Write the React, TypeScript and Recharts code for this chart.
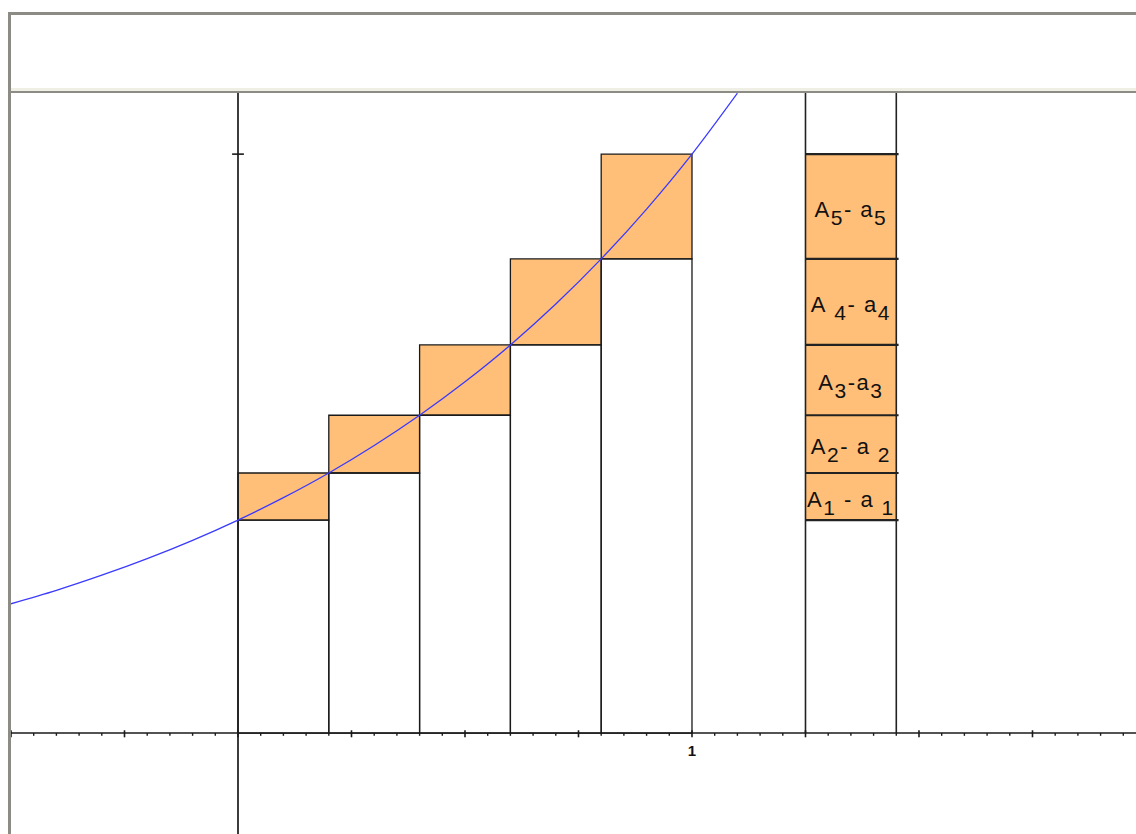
import {
  ComposedChart,
  Line,
  XAxis,
  YAxis,
  ReferenceArea,
  ReferenceLine,
  ReferenceDot,
} from "recharts";

// left edges of the five strips, and the curve heights at each side
const stripLeft = [0, 0.2, 0.4, 0.6, 0.8];
const lowerValues = [1, 1.221, 1.492, 1.822, 2.226];
const upperValues = [1.221, 1.492, 1.822, 2.226, 2.718];
const stripWidth = 0.2;

// the stacked column on the right
const stackLeft = 1.25;
const stackRight = 1.45;
const stackLabels = [
  ["A", "1", " - ", "a", " 1"],
  ["A", "2", "- ", "a", " 2"],
  ["A", "3", "-", "a", "3"],
  ["A", " 4", "- ", "a", "4"],
  ["A", "5", "- ", "a", "5"],
];

// the blue curve
const curveX = [-0.5, -0.4, -0.3, -0.2, -0.1, 0, 0.1, 0.2, 0.3, 0.4, 0.5, 0.6, 0.7, 0.8, 0.9, 1, 1.1];
const curveY = [0.607, 0.67, 0.741, 0.819, 0.905, 1, 1.105, 1.221, 1.35, 1.492, 1.649, 1.822, 2.014, 2.226, 2.46, 2.718, 3.004];
const curveData = curveX.map((x, i) => ({ x, y: curveY[i] }));

// axis ticks
const majorTicks = [-0.5, -0.25, 0, 0.25, 0.5, 0.75, 1, 1.25, 1.5, 1.75];
const minorTicks = [
  -0.45, -0.4, -0.35, -0.3, -0.2, -0.15, -0.1, -0.05, 0.05, 0.1, 0.15, 0.2, 0.3,
  0.35, 0.4, 0.45, 0.55, 0.6, 0.65, 0.7, 0.8, 0.85, 0.9, 0.95, 1.05, 1.1, 1.15,
  1.2, 1.3, 1.35, 1.4, 1.45, 1.55, 1.6, 1.65, 1.7, 1.8, 1.85, 1.9, 1.95,
];
const yTick = 2.718;
const tickLabel = 1;

const ORANGE = "#FFBF78";
const INK = "#1a1a1a";
const BLUE = "#3a3aff";
const FRAME = "#8c8c84";

const nb = (s: string) => s.replace(/ /g, "\u00a0");

const StackLabel = (parts: string[]) => (props: any) => {
  const { x, y, width, height } = props.viewBox;
  const cx = x + width / 2;
  const cy = y + height / 2 + 10;
  return (
    <text
      x={cx}
      y={cy}
      textAnchor="middle"
      fontFamily="'Liberation Sans', Arial, sans-serif"
      fontSize={22}
      letterSpacing={1.5}
      fill="#111"
    >
      <tspan>{parts[0]}</tspan>
      <tspan dy={8} fontSize={21}>{nb(parts[1])}</tspan>
      <tspan dy={-8}>{nb(parts[2])}</tspan>
      <tspan>{parts[3]}</tspan>
      <tspan dy={8} fontSize={21}>{nb(parts[4])}</tspan>
    </text>
  );
};

const TickText = (props: any) => {
  const { x, y, width } = props.viewBox;
  return (
    <text
      x={x + width / 2}
      y={y + 23}
      textAnchor="middle"
      fontFamily="'Liberation Sans', Arial, sans-serif"
      fontWeight="bold"
      fontSize={15}
      fill="#111"
    >
      {tickLabel}
    </text>
  );
};

const App = () => {
  return (
    <div
      style={{
        position: "absolute",
        left: 0,
        top: 0,
        width: 1136,
        height: 834,
        background: "#fff",
        overflow: "hidden",
      }}
    >
      {/* window frame */}
      <div style={{ position: "absolute", left: 8, top: 12, width: 1128, height: 3, background: FRAME }} />
      <div style={{ position: "absolute", left: 8, top: 12, width: 3, height: 822, background: FRAME }} />
      <div style={{ position: "absolute", left: 11, top: 88, width: 1125, height: 3, background: "#efefe6" }} />
      <div style={{ position: "absolute", left: 8, top: 91, width: 1128, height: 2, background: FRAME }} />

      <div style={{ position: "absolute", left: 11, top: 93 }}>
        <ComposedChart
          width={1125}
          height={741}
          data={curveData}
          margin={{ top: 0, right: 0, bottom: 0, left: 0 }}
        >
          <XAxis
            dataKey="x"
            type="number"
            domain={[-0.5, 1.978]}
            allowDataOverflow
            hide
          />
          <YAxis type="number" domain={[-0.474, 3.005]} allowDataOverflow hide />

          {/* orange pieces between the curve values */}
          {stripLeft.map((x, i) => (
            <ReferenceArea
              key={`o${i}`}
              x1={x}
              x2={x + stripWidth}
              y1={lowerValues[i]}
              y2={upperValues[i]}
              fill={ORANGE}
              fillOpacity={1}
              stroke={INK}
              strokeWidth={1.3}
              ifOverflow="visible"
            />
          ))}
          {/* white strips under the lower values */}
          {stripLeft.map((x, i) => (
            <ReferenceArea
              key={`w${i}`}
              x1={x}
              x2={x + stripWidth}
              y1={0}
              y2={lowerValues[i]}
              fill="none"
              stroke={INK}
              strokeWidth={1.3}
              ifOverflow="visible"
            />
          ))}

          {/* stacked column */}
          {stripLeft.map((_, i) => (
            <ReferenceArea
              key={`s${i}`}
              x1={stackLeft}
              x2={stackRight}
              y1={lowerValues[i]}
              y2={upperValues[i]}
              fill={ORANGE}
              fillOpacity={1}
              stroke="none"
              label={StackLabel(stackLabels[i])}
              ifOverflow="visible"
            />
          ))}
          {[lowerValues[0], ...upperValues].map((v, i) => (
            <ReferenceLine
              key={`h${i}`}
              segment={[
                { x: stackLeft, y: v },
                { x: stackRight + 0.005, y: v },
              ]}
              stroke="#222"
              strokeWidth={2.2}
            />
          ))}
          {[stackLeft, stackRight].map((x) => (
            <ReferenceLine
              key={`v${x}`}
              segment={[
                { x, y: 0 },
                { x, y: 3.005 },
              ]}
              stroke="#222"
              strokeWidth={1.6}
            />
          ))}

          {/* axes */}
          <ReferenceLine y={0} stroke={INK} strokeWidth={1.6} />
          <ReferenceLine x={0} stroke={INK} strokeWidth={1.7} />
          <ReferenceLine
            segment={[
              { x: -0.013, y: yTick },
              { x: 0.013, y: yTick },
            ]}
            stroke={INK}
            strokeWidth={1.6}
          />
          {minorTicks.map((t) => (
            <ReferenceLine
              key={`m${t}`}
              segment={[
                { x: t, y: 0 },
                { x: t, y: -0.013 },
              ]}
              stroke={INK}
              strokeWidth={1.4}
            />
          ))}
          {majorTicks.map((t) => (
            <ReferenceLine
              key={`M${t}`}
              segment={[
                { x: t, y: 0.013 },
                { x: t, y: -0.02 },
              ]}
              stroke={INK}
              strokeWidth={1.6}
            />
          ))}
          <ReferenceDot
            x={tickLabel}
            y={0}
            r={0}
            fill="none"
            stroke="none"
            label={TickText}
          />

          <Line
            dataKey="y"
            type="monotone"
            stroke={BLUE}
            strokeWidth={1.3}
            dot={false}
            activeDot={false}
            isAnimationActive={false}
          />
        </ComposedChart>
      </div>
    </div>
  );
};

export default App;
